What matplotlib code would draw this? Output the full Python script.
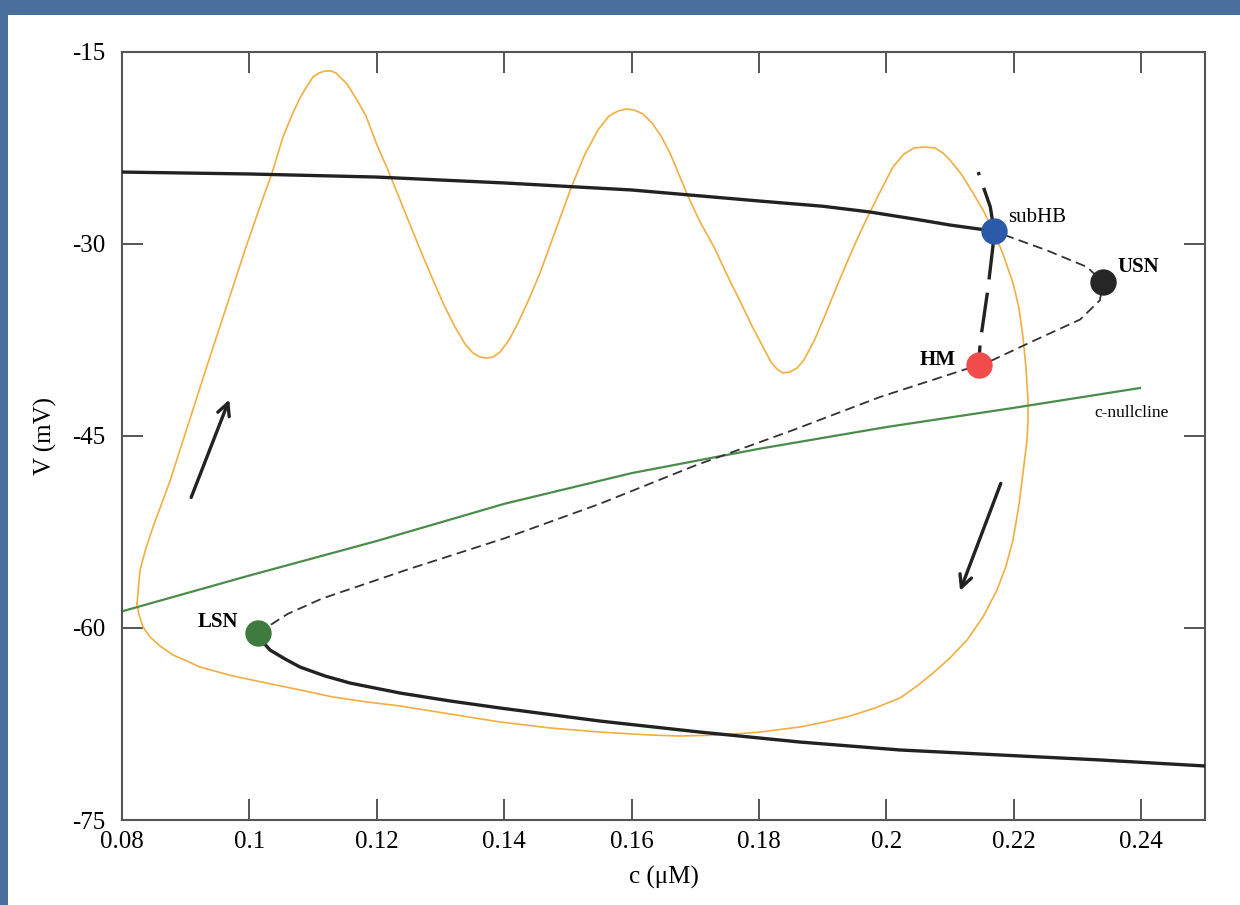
import matplotlib
matplotlib.use("Agg")
import matplotlib.pyplot as plt
from matplotlib.patches import Rectangle

# --- data (c in uM, V in mV) ---
upper_c = [0.08, 0.10, 0.12, 0.14, 0.16, 0.18, 0.19, 0.1974, 0.205, 0.21, 0.2167]
upper_v = [-24.38, -24.53, -24.77, -25.23, -25.78, -26.64, -27.05, -27.5, -28.1, -28.52, -28.98]

lower_c = [0.10135, 0.10198, 0.10323, 0.10559, 0.10794, 0.11187, 0.11579, 0.12364,
           0.13149, 0.13934, 0.15503, 0.17073, 0.18643, 0.20212, 0.21782, 0.23352, 0.25]
lower_v = [-60.39, -61.02, -61.72, -62.42, -63.05, -63.75, -64.30, -65.08,
           -65.70, -66.25, -67.27, -68.13, -68.91, -69.53, -69.92, -70.31, -70.78]

# unstable middle branch LSN -> HM -> USN -> subHB
middle_c = [0.10135, 0.1060, 0.1114, 0.125, 0.140, 0.155, 0.170, 0.185, 0.199, 0.2145,
            0.2167, 0.2225, 0.2304, 0.2335, 0.234, 0.2315, 0.2252, 0.2169]
middle_v = [-60.39, -58.9, -57.7, -55.4, -53.0, -50.3, -47.3, -44.6, -41.95, -39.45,
            -39.06, -37.7, -35.9, -34.4, -33.0, -31.8, -30.5, -29.0]

# heavy dashed branch, from its top end down through subHB to HM
hb_c = [0.2144, 0.2163, 0.2169, 0.2167, 0.2159, 0.2147, 0.2145]
hb_v = [-24.38, -27.11, -28.98, -30.23, -33.6, -37.73, -39.45]

null_c = [0.08, 0.10, 0.12, 0.14, 0.16, 0.18, 0.20, 0.22, 0.2398]
null_v = [-58.7, -55.9, -53.2, -50.3, -47.9, -46.0, -44.3, -42.8, -41.25]

# bursting trajectory (closed loop)
orbit_c = [0.08235, 0.08283, 0.08377, 0.08487, 0.08753, 0.09020, 0.09334, 0.09648,
           0.09962, 0.10213, 0.10355, 0.10527, 0.10669, 0.10794, 0.10904, 0.10998,
           0.11092, 0.11187, 0.11281, 0.11359, 0.11532, 0.11689, 0.11830, 0.12003,
           0.12175, 0.12364, 0.12536, 0.12709, 0.12882, 0.13054, 0.13227, 0.13384,
           0.13510, 0.13620, 0.13714, 0.13824, 0.13934, 0.14075, 0.14216, 0.14389,
           0.14561, 0.14797, 0.15048, 0.15268, 0.15472, 0.15644, 0.15786, 0.15911,
           0.16037, 0.16178, 0.16319, 0.16461, 0.16602, 0.16869, 0.17073, 0.17293,
           0.17497, 0.17716, 0.17889, 0.18062, 0.18187, 0.18282, 0.18376, 0.18486,
           0.18596, 0.18705, 0.18878, 0.19051, 0.19223, 0.19396, 0.19569, 0.19741,
           0.19930, 0.20102, 0.20275, 0.20432, 0.20605, 0.20762, 0.20887, 0.20997,
           0.21185, 0.21358, 0.21515, 0.21672, 0.21829, 0.21986, 0.22080, 0.22143,
           0.22190, 0.22222, 0.22222, 0.22206, 0.22143, 0.22080, 0.21986, 0.21876,
           0.21735, 0.21515, 0.21264, 0.20997, 0.20730, 0.20479, 0.20212, 0.19820,
           0.19427, 0.19035, 0.18643, 0.18015, 0.17387, 0.16759, 0.16288, 0.15503,
           0.14718, 0.13934, 0.13149, 0.12364, 0.11846, 0.11312, 0.10794, 0.10276,
           0.09742, 0.09224, 0.09020, 0.08801, 0.08597, 0.08440, 0.08330, 0.08267,
           0.08235]
orbit_v = [-58.13, -55.47, -53.75, -52.11, -48.52, -44.38, -39.53, -34.77,
           -30.00, -26.41, -24.45, -21.64, -19.92, -18.59, -17.66, -16.95,
           -16.64, -16.48, -16.48, -16.64, -17.50, -18.75, -20.00, -22.27,
           -24.22, -26.56, -28.67, -30.78, -32.81, -34.77, -36.48, -37.81,
           -38.52, -38.83, -38.91, -38.83, -38.44, -37.50, -36.17, -34.30,
           -32.27, -29.06, -25.63, -22.97, -21.09, -20.00, -19.61, -19.45,
           -19.53, -19.84, -20.55, -21.56, -22.89, -26.09, -28.28, -30.23,
           -32.42, -34.61, -36.41, -38.05, -39.22, -39.77, -40.08, -40.00,
           -39.69, -39.06, -37.42, -35.39, -33.28, -31.25, -29.30, -27.50,
           -25.63, -23.98, -22.97, -22.50, -22.42, -22.50, -22.89, -23.44,
           -24.61, -26.02, -27.34, -28.91, -30.78, -33.05, -35.00, -37.27,
           -39.69, -42.19, -43.75, -45.31, -47.89, -50.39, -53.13, -55.16,
           -57.03, -59.14, -60.94, -62.34, -63.52, -64.53, -65.47, -66.25,
           -66.88, -67.34, -67.73, -68.13, -68.36, -68.44, -68.36, -68.13,
           -67.81, -67.34, -66.72, -66.09, -65.78, -65.39, -64.84, -64.30,
           -63.75, -63.05, -62.58, -62.11, -61.41, -60.70, -59.92, -58.98,
           -58.13]

points = ["subHB", "USN", "HM", "LSN"]
point_c = [0.2169, 0.234, 0.2145, 0.10135]
point_v = [-29.0, -33.0, -39.45, -60.39]
point_colors = ["#2a5aa8", "#262626", "#f24b4b", "#3f7a3f"]

x_ticks = [0.08, 0.1, 0.12, 0.14, 0.16, 0.18, 0.2, 0.22, 0.24]
x_ticklabels = ["0.08", "0.1", "0.12", "0.14", "0.16", "0.18", "0.2", "0.22", "0.24"]
y_ticks = [-75, -60, -45, -30, -15]

plt.rcParams["font.family"] = ["Liberation Serif", "DejaVu Serif"]
plt.rcParams["axes.unicode_minus"] = False

fig = plt.figure(figsize=(12.4, 9.05), dpi=100, facecolor="#4a6f9c")
# white page on the blue slide background
fig.patches.append(Rectangle((8 / 1240, 0), 1, 1 - 15 / 905, transform=fig.transFigure,
                             facecolor="white", edgecolor="none", zorder=-10))
ax = fig.add_axes([122 / 1240, 85 / 905, 1083 / 1240, 768 / 905])
ax.set_facecolor("white")

ax.plot(orbit_c, orbit_v, color="#f2ae40", lw=1.2, zorder=2)
ax.plot(null_c, null_v, color="#4a8c4a", lw=1.6, zorder=2.5)
ax.plot(upper_c, upper_v, color="#222222", lw=2.4, zorder=3, solid_capstyle="round")
ax.plot(lower_c, lower_v, color="#222222", lw=2.4, zorder=3, solid_capstyle="round")
ax.plot(middle_c, middle_v, color="#333333", lw=1.3, ls=(0, (5.5, 3.0)), zorder=3)
ax.plot(hb_c, hb_v, color="#222222", lw=2.4, ls=(11, (12, 4)), zorder=3)

for c, v, col in zip(point_c, point_v, point_colors):
    ax.plot(c, v, "o", ms=18, color=col, zorder=5)

ax.text(0.2191, -27.9, "subHB", fontsize=15, va="center", ha="left")
ax.text(0.2362, -31.8, "USN", fontsize=15, fontweight="bold", va="center", ha="left")
ax.text(0.2108, -39.1, "HM", fontsize=15, fontweight="bold", va="center", ha="right")
ax.text(0.0982, -59.5, "LSN", fontsize=15, fontweight="bold", va="center", ha="right")
ax.text(0.2385, -43.2, "c-nullcline", fontsize=12.5, va="center", ha="center")

arrow_kw = dict(arrowstyle="->", color="#222222", lw=2.4, mutation_scale=22)
ax.annotate("", xy=(0.0970, -41.95), xytext=(0.0907, -50.0), arrowprops=arrow_kw)
ax.annotate("", xy=(0.2114, -57.3), xytext=(0.2181, -48.5), arrowprops=arrow_kw)

ax.set_xlim(0.08, 0.25)
ax.set_ylim(-75, -15)
ax.set_xticks(x_ticks)
ax.set_xticklabels(x_ticklabels)
ax.set_yticks(y_ticks)
ax.tick_params(direction="in", length=15, width=1.4, color="#555555", labelsize=18,
               top=True, right=True, pad=8)
ax.tick_params(axis="y", pad=12)
for s in ax.spines.values():
    s.set_color("#555555")
    s.set_linewidth(1.5)
ax.set_xlabel("c (μM)", fontsize=18, labelpad=9)
ax.set_ylabel("V (mV)", fontsize=18, labelpad=11)

fig.savefig("out.png", dpi=100, facecolor=fig.get_facecolor())
